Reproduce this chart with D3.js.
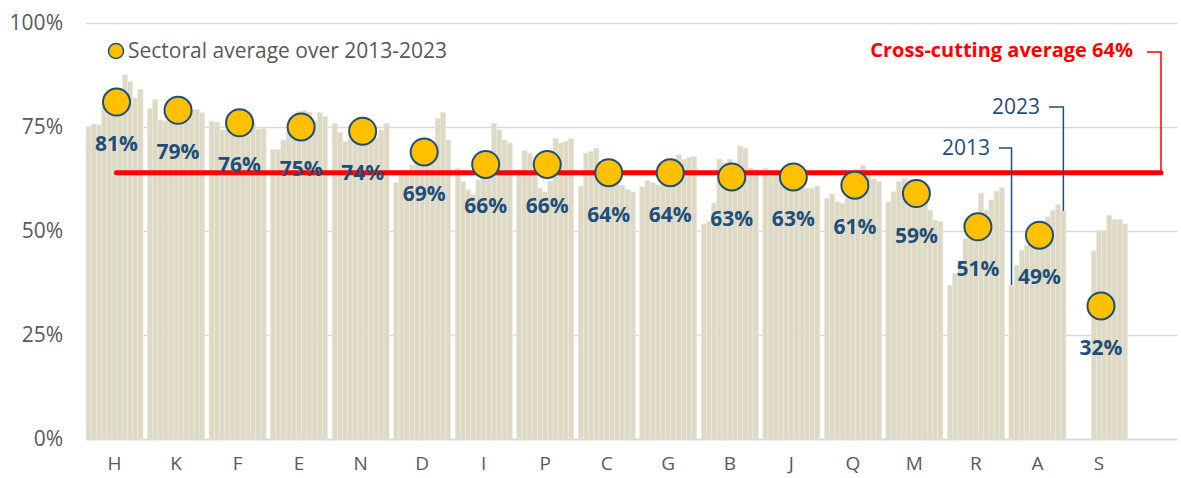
<!DOCTYPE html>
<html>
<head>
<meta charset="utf-8">
<script src="https://cdn.jsdelivr.net/npm/d3@7"></script>
<style>
body { margin: 0; background: #fff; }
text { font-family: "Open Sans", sans-serif; }
</style>
</head>
<body>
<svg id="chart" width="1181" height="478"></svg>
<script>
"use strict";

var sectors = ["H", "K", "F", "E", "N", "D", "I", "P", "C", "G", "B", "J", "Q", "M", "R", "A", "S"],
    years = [2013, 2014, 2015, 2016, 2017, 2018, 2019, 2020, 2021, 2022, 2023],
    sectorAverages = [81, 79, 76, 75, 74, 69, 66, 66, 64, 64, 63, 63, 61, 59, 51, 49, 32],
    crossCuttingAverage = 64,
    yTicks = [0, 25, 50, 75, 100],

    // one row per sector, one value per year (percent)
    H = [75.1, 75.7, 75.5, 80, 81, 81.5, 81, 87.5, 85.9, 82, 84],
    K = [79.5, 81.6, 76.7, 76.5, 77, 78, 79, 79.5, 79.2, 79.2, 78.4],
    F = [76.4, 76.1, 74.3, 74.3, 75, 76, 77, 77, 76, 74.5, 74.6],
    E = [69.6, 69.6, 71.9, 74, 76, 78.8, 79, 78.6, 76.5, 78.4, 77.5],
    N = [75.9, 73.7, 71.5, 72, 73, 74, 74.5, 74, 72.5, 74.3, 75.9],
    D = [61.6, 63.5, 63.5, 65.9, 67, 68, 68, 69, 77.1, 78.5, 71.9],
    I = [65.1, 61.9, 59.9, 58.8, 62.3, 64, 66, 75.9, 74.3, 71.9, 71.2],
    P = [64.8, 69.3, 68.7, 64, 60.3, 59.4, 62, 72.3, 71.2, 71.6, 72.2],
    C = [60.8, 68.7, 69.1, 69.9, 65, 64, 63, 62, 61, 60, 59.4],
    G = [60.6, 62.1, 61.6, 61.1, 62, 63, 64, 68.3, 67.2, 67.7, 67.9],
    B = [51.7, 52.3, 56.7, 67.3, 66.4, 67.3, 62.3, 70.4, 69.9, 65.1, 64.7],
    J = [65.1, 63.2, 64, 64, 64.5, 64.5, 64, 62, 60.3, 60.3, 60.8],
    Q = [57.9, 58.9, 57, 56.7, 58, 60, 64.8, 65.7, 63.7, 62.5, 61.9],
    M = [57, 59.4, 61.9, 62.7, 62.1, 62, 61, 60, 55, 52.6, 52.3],
    R = [37, 39.8, 42.6, 48.2, 49, 50, 59.1, 55, 57.5, 59.6, 60.4],
    A = [37, 41.8, 45.4, 46.6, 48, 49, 50, 53.4, 55, 56.4, 54.8],
    S = [null, null, null, null, 45.2, 50.1, 50.1, 53.8, 52.8, 52.8, 51.7],
    yearlyValues = [H, K, F, E, N, D, I, P, C, G, B, J, Q, M, R, A, S],

    plotLeft = 86,
    plotRight = 1177,
    plotTop = 23,
    plotBottom = 439,

    barColour = "#ddd9c4",
    barEdge = "#ebe9de",
    gridColour = "#d9d9d9",
    axisTextColour = "#595959",
    navy = "#1f4e79",
    gold = "#ffc000",
    red = "#ff0000";

var svg = d3.select("#chart");

var x = d3.scaleBand()
    .domain(sectors)
    .range([plotLeft, 1127.5])
    .paddingInner(0.073)
    .paddingOuter(0),
    xYear = d3.scaleBand()
    .domain(years)
    .range([0, x.bandwidth()])
    .padding(0),
    y = d3.scaleLinear()
    .domain([0, 100])
    .range([plotBottom, plotTop]);

// gridlines and value axis
var yAxis = d3.axisLeft(y)
    .tickValues(yTicks)
    .tickSize(-(plotRight - plotLeft))
    .tickPadding(23)
    .tickFormat(function(d) { return d + "%"; });

var yAxisG = svg.append("g")
    .attr("transform", "translate(" + plotLeft + ",0)")
    .call(yAxis);

yAxisG.select(".domain").remove();
yAxisG.selectAll(".tick line")
    .attr("stroke", gridColour)
    .attr("stroke-width", 1.5);
yAxisG.selectAll(".tick text")
    .attr("fill", axisTextColour)
    .style("font-size", "21px");

// yearly bars
var groups = svg.append("g")
    .selectAll("g.sector")
    .data(sectors.map(function(s, i) {
        return { sector: s, values: yearlyValues[i] };
    }))
    .enter()
    .append("g")
    .attr("class", "sector")
    .attr("transform", function(d) {
        return "translate(" + x(d.sector) + ",0)";
    });

groups.selectAll("rect")
    .data(function(d) {
        return years.map(function(yr, i) {
            return { year: yr, value: d.values[i] };
        }).filter(function(b) { return b.value !== null; });
    })
    .enter()
    .append("rect")
    .attr("x", function(d) { return xYear(d.year); })
    .attr("width", xYear.bandwidth())
    .attr("y", function(d) { return y(d.value); })
    .attr("height", function(d) { return plotBottom - y(d.value); })
    .attr("fill", barColour)
    .attr("stroke", barEdge)
    .attr("stroke-width", 0.7);

// category axis
var xAxis = d3.axisBottom(x)
    .tickSize(0)
    .tickPadding(18);

var xAxisG = svg.append("g")
    .attr("transform", "translate(0," + plotBottom + ")")
    .call(xAxis);

xAxisG.select(".domain").remove();
xAxisG.selectAll(".tick text")
    .attr("fill", axisTextColour)
    .style("font-size", "19px");

svg.append("line")
    .attr("x1", plotLeft)
    .attr("x2", plotRight)
    .attr("y1", plotBottom + 0.5)
    .attr("y2", plotBottom + 0.5)
    .attr("stroke", gridColour)
    .attr("stroke-width", 1.5);

// cross-cutting average line with its bracket to the label
var redEndX = 1161,
    redTopY = 52,
    avgY = y(crossCuttingAverage);

svg.append("path")
    .attr("d", "M" + (x("H") + x.bandwidth() / 2 + 2) + "," + avgY + "H" + redEndX)
    .attr("stroke", red)
    .attr("stroke-width", 5)
    .attr("stroke-linecap", "round")
    .attr("fill", "none");

svg.append("path")
    .attr("d", "M" + redEndX + "," + avgY + "V" + redTopY + "H" + (redEndX - 14))
    .attr("stroke", red)
    .attr("stroke-width", 1.5)
    .attr("fill", "none");

svg.append("text")
    .attr("x", redEndX - 28)
    .attr("y", redTopY + 5)
    .attr("text-anchor", "end")
    .attr("fill", red)
    .style("font-size", "20px")
    .style("font-weight", "bold")
    .text("Cross-cutting average " + crossCuttingAverage + "%");

// sector averages
var averages = svg.append("g")
    .selectAll("g.average")
    .data(sectors.map(function(s, i) {
        return { sector: s, value: sectorAverages[i] };
    }))
    .enter()
    .append("g")
    .attr("class", "average")
    .attr("transform", function(d) {
        return "translate(" + (x(d.sector) + x.bandwidth() / 2 + 2) + "," + y(d.value) + ")";
    });

averages.append("circle")
    .attr("r", 13.5)
    .attr("fill", gold)
    .attr("stroke", navy)
    .attr("stroke-width", 2);

averages.append("text")
    .attr("y", 49)
    .attr("text-anchor", "middle")
    .attr("fill", navy)
    .style("font-size", "21px")
    .style("font-weight", "bold")
    .text(function(d) { return d.value + "%"; });

// 2013 / 2023 call-outs on sector A
var leaders = [
    { label: "2013", index: 0, elbowY: 148, textX: 990 },
    { label: "2023", index: 10, elbowY: 107, textX: 1040 }
];

leaders.forEach(function(l) {
    var bx = x("A") + xYear(years[l.index]) + xYear.bandwidth() / 2,
        by = y(A[l.index]);

    svg.append("path")
        .attr("d", "M" + (l.textX + 9) + "," + l.elbowY + "H" + bx + "V" + by)
        .attr("stroke", navy)
        .attr("stroke-width", 1.5)
        .attr("fill", "none");

    svg.append("text")
        .attr("x", l.textX)
        .attr("y", l.elbowY + 7)
        .attr("text-anchor", "end")
        .attr("fill", navy)
        .style("font-size", "21px")
        .text(l.label);
});

// legend
var legend = svg.append("g")
    .attr("transform", "translate(116,51)");

legend.append("circle")
    .attr("r", 7.5)
    .attr("fill", gold)
    .attr("stroke", navy)
    .attr("stroke-width", 1.5);

legend.append("text")
    .attr("x", 12)
    .attr("y", 7)
    .attr("fill", axisTextColour)
    .style("font-size", "21px")
    .text("Sectoral average over 2013-2023");
</script>
</body>
</html>
